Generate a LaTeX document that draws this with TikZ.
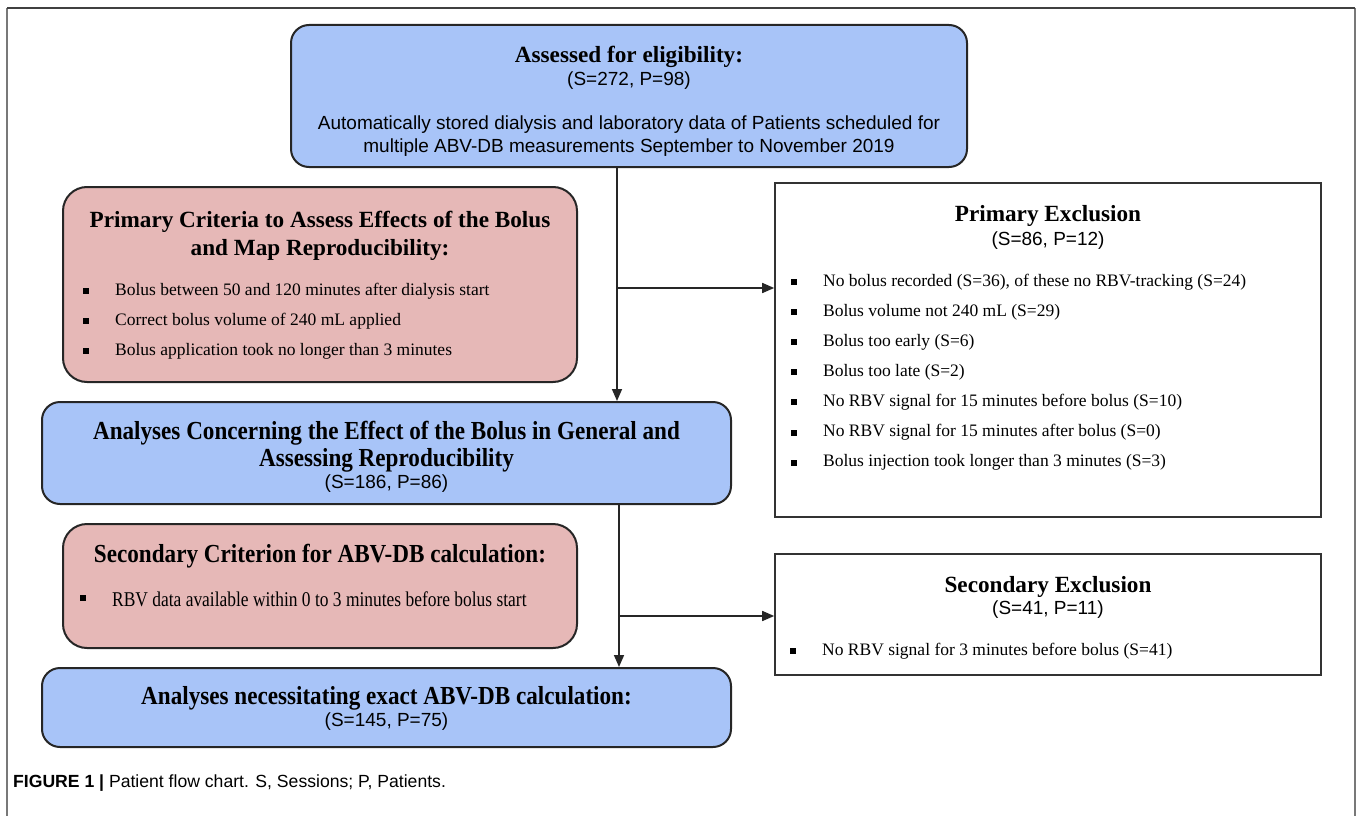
\documentclass[tikz,border=0pt]{standalone}
\usepackage{fontspec}
\setmainfont{Liberation Serif}
\setsansfont{Liberation Sans}
\newfontfamily\narrowserif[FakeStretch=0.89]{Liberation Serif}
\newfontfamily\narrowitem[FakeStretch=0.83]{Liberation Serif}
\usetikzlibrary{arrows.meta}

\definecolor{boxblue}{RGB}{168,196,248}
\definecolor{boxred}{RGB}{230,184,183}
\definecolor{framegray}{RGB}{120,120,120}

\newcommand{\bul}[1][1pt]{\llap{\rule[#1]{6pt}{6pt}\hspace{26pt}}}

\tikzset{
	bluebox/.style={draw=black!85, line width=2pt, rounded corners=18pt, fill=boxblue, inner sep=0pt},
	redbox/.style={draw=black!85, line width=2pt, rounded corners=24pt, fill=boxred, inner sep=0pt},
	exclbox/.style={draw=black!80, line width=1.6pt, fill=white, inner sep=0pt},
	head/.style={anchor=base, inner sep=0pt, font=\bfseries\fontsize{23.2}{28}\selectfont},
	widehead/.style={anchor=base, inner sep=0pt, font=\narrowserif\bfseries\fontsize{26}{30}\selectfont},
	count/.style={anchor=base, inner sep=0pt, font=\sffamily\fontsize{19}{23}\selectfont},
	item/.style={anchor=base west, inner sep=0pt, font=\fontsize{17.5}{20}\selectfont},
	arr/.style={-{Triangle[length=12pt,width=10pt]}, line width=1.6pt, draw=black!85},
}

\begin{document}
\begin{tikzpicture}[x=1pt,y=-1pt]
	\useasboundingbox (0,0) rectangle (1357,816);
	\draw[framegray, line width=1.5pt] (7,816) -- (7,8);
	\draw[framegray, line width=1.5pt] (1355,816) -- (1355,8);
	\draw[black!75, line width=1.5pt] (7,8) -- (1355,8);

	\node[bluebox, minimum width=676pt, minimum height=142pt] (assess) at (629,96) {};
	\node[redbox, minimum width=514pt, minimum height=195pt] (crit1) at (320,284.5) {};
	\node[exclbox, minimum width=546pt, minimum height=334pt] (primexcl) at (1048,350) {};
	\node[bluebox, minimum width=689pt, minimum height=102pt] (analyses) at (386.5,453) {};
	\node[redbox, minimum width=514pt, minimum height=124pt] (crit2) at (320,586) {};
	\node[exclbox, minimum width=546pt, minimum height=121pt] (secexcl) at (1048,614.5) {};
	\node[bluebox, minimum width=689pt, minimum height=79pt] (final) at (386.5,707.5) {};

	\node[head] (assesstitle) at (629,63) {Assessed for eligibility:};
	\node[count] (assesscount) at (629,85) {(S=272, P=98)};
	\node[count] (assessnote1) at (629,129) {Automatically stored dialysis and laboratory data of Patients scheduled for};
	\node[count] (assessnote2) at (629,152) {multiple ABV-DB measurements September to November 2019};

	\node[head] (crit1title1) at (320,227) {Primary Criteria to Assess Effects of the Bolus};
	\node[head] (crit1title2) at (320,255) {and Map Reproducibility:};
	\foreach \t [count=\i from 0] in {Bolus between 50 and 120 minutes after dialysis start,
		Correct bolus volume of 240 mL applied,
		Bolus application took no longer than 3 minutes} {
		\node[item] (crit1item\i) at (115,{295+30*\i}) {\bul\t};
	}

	\node[head] (primexcltitle) at (1048,221) {Primary Exclusion};
	\node[count] (primexclcount) at (1048,245) {(S=86, P=12)};
	\foreach \t [count=\i from 0] in {{No bolus recorded (S=36), of these no RBV-tracking (S=24)},
		{Bolus volume not 240 mL (S=29)},
		{Bolus too early (S=6)},
		{Bolus too late (S=2)},
		{No RBV signal for 15 minutes before bolus (S=10)},
		{No RBV signal for 15 minutes after bolus (S=0)},
		{Bolus injection took longer than 3 minutes (S=3)}} {
		\node[item] (primexclitem\i) at (823,{286+30.1*\i}) {\bul\t};
	}

	\node[widehead] (analysestitle1) at (386.5,439) {Analyses Concerning the Effect of the Bolus in General and};
	\node[widehead] (analysestitle2) at (386.5,466) {Assessing Reproducibility};
	\node[count] (analysescount) at (386.5,488) {(S=186, P=86)};

	\node[widehead] (crit2title) at (320,562) {Secondary Criterion for ABV-DB calculation:};
	\node[item, font=\narrowitem\fontsize{21}{24}\selectfont] (crit2item) at (112,606) {\bul[5pt]RBV data available within 0 to 3 minutes before bolus start};

	\node[head] (secexcltitle) at (1048,592) {Secondary Exclusion};
	\node[count] (secexclcount) at (1048,614) {(S=41, P=11)};
	\node[item] (secexclitem) at (822,655) {\bul No RBV signal for 3 minutes before bolus (S=41)};

	\node[widehead] (finaltitle) at (386.5,704) {Analyses necessitating exact ABV-DB calculation:};
	\node[count] (finalcount) at (386.5,726) {(S=145, P=75)};

	\coordinate (split1) at (617,288);
	\coordinate (split2) at (619,616);
	\draw[arr] (assess.south -| split1) -- (analyses.north -| split1);
	\draw[arr] (split1) -- (primexcl.west |- split1);
	\draw[arr] (analyses.south -| split2) -- (final.north -| split2);
	\draw[arr] (split2) -- (secexcl.west |- split2);

	\node[anchor=base west, inner sep=0pt, font=\sffamily\fontsize{17.6}{20}\selectfont] (caption) at (13,787) {\textbf{FIGURE 1 |} Patient flow chart. S, Sessions; P, Patients.};
\end{tikzpicture}
\end{document}
